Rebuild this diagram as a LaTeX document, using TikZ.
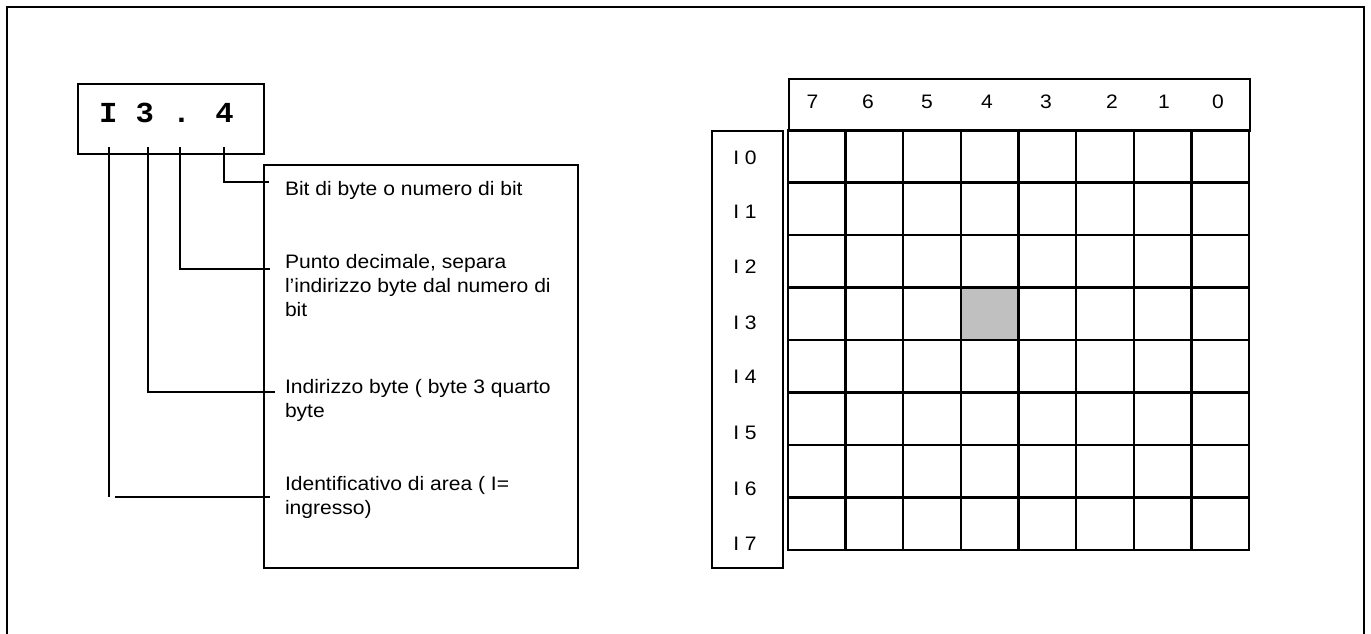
\documentclass[tikz,border=0pt]{standalone}
\usepackage{fontspec}
\newfontfamily\arialx[FakeStretch=1.08]{Liberation Sans}
\newfontfamily\courx[FakeStretch=1.055]{Liberation Mono}
\definecolor{cellgray}{HTML}{C0C0C0}
\begin{document}
\begin{tikzpicture}[x=1pt,y=-1pt,line width=2pt,
  box/.style={draw,line width=2pt,inner sep=0pt,anchor=north west},
  lbl/.style={font=\arialx\fontsize{19.5}{24}\selectfont,inner sep=0pt,anchor=base west,align=left},
  num/.style={font=\arialx\fontsize{19.5}{24}\selectfont,inner sep=0pt,anchor=base},
  conn/.style={line width=2pt},
  gridline/.style={line width=2.4pt,line cap=rect}]
\useasboundingbox (0,0) rectangle (1371,634);
% outer frame (open at the bottom)
\draw[conn] (7,634) -- (7,7.5) -- (1364,7.5) -- (1364,634);

% address box
\node[box,minimum width=186pt,minimum height=70pt] (addr) at (77,83) {};
\node[anchor=base west,inner sep=0pt,font=\courx\bfseries\fontsize{29}{29}\selectfont] (addrtxt) at (98,122) {I 3 . 4};

% description box (base anchor of a multi-line node = last line)
\node[box,minimum width=314pt,minimum height=403pt] (desc) at (263,164) {};
\node[lbl] (t1) at (284,195) {Bit di byte o numero di bit};
\node[lbl] (t2) at (284,316) {Punto decimale, separa\\l’indirizzo byte dal numero di\\bit};
\node[lbl] (t3) at (284,417) {Indirizzo byte ( byte 3 quarto\\byte};
\node[lbl] (t4) at (284,514) {Identificativo di area ( I=\\ingresso)};

% connectors
\coordinate (c4a) at (224,147);   \coordinate (c4b) at (269,182);
\coordinate (cpa) at (180,147);   \coordinate (cpb) at (270,269);
\coordinate (c3a) at (148,147);   \coordinate (c3b) at (275,392);
\coordinate (cia) at (109,147);   \coordinate (cib) at (109,497);
\coordinate (cic) at (115,497);   \coordinate (cid) at (270,497);
\draw[conn] (c4a) |- (c4b);
\draw[conn] (cpa) |- (cpb);
\draw[conn] (c3a) |- (c3b);
\draw[conn] (cia) -- (cib);
\draw[conn] (cic) -- (cid);

% header and row label boxes
\node[box,minimum width=461pt,minimum height=52pt] (hdr) at (788,78) {};
\node[box,minimum width=71pt,minimum height=437pt] (rows) at (711,130) {};

% shaded cell
\fill[cellgray] (960.9,287.5) rectangle (1018.5,340);
% grid
\foreach \i in {0,...,8} \draw[gridline] ({788+\i*57.625},130) -- ({788+\i*57.625},550);
\foreach \j in {0,...,8} \draw[gridline] (788,{130+\j*52.5}) -- (1249,{130+\j*52.5});

% header numbers
\foreach \x/\d in {812.5/7,868/6,927/5,987/4,1046/3,1112/2,1164/1,1218/0}
  \node[num] (h\d) at (\x,108.5) {\d};
% row labels
\foreach \y/\r in {164/0,218/1,273/2,329/3,383/4,439/5,495/6,550/7}
  \node[num] (r\r) at (745,\y) {I \r};
\end{tikzpicture}
\end{document}
